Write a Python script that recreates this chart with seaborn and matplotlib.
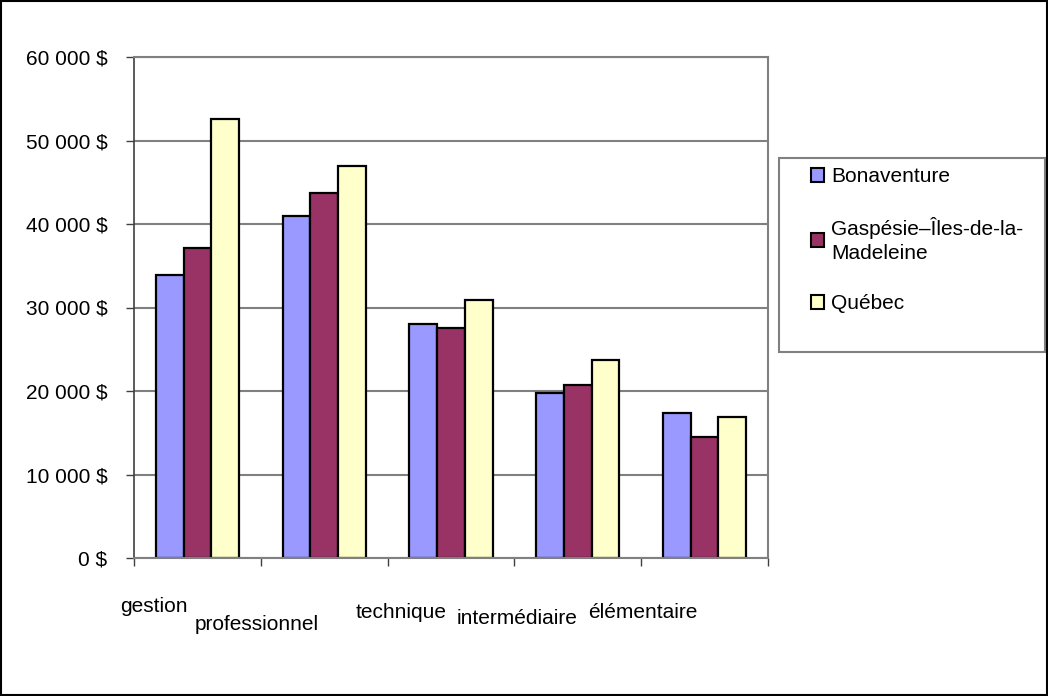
import matplotlib
matplotlib.use("Agg")
import matplotlib.pyplot as plt
import pandas as pd
import seaborn as sns
from matplotlib.patches import Rectangle

# Revenu d'emploi moyen par niveau de compétence
categories = ["gestion", "professionnel", "technique", "intermédiaire", "élémentaire"]
regions = ["Bonaventure", "Gaspésie–Îles-de-la-\nMadeleine", "Québec"]
bonaventure = [33860, 40920, 28060, 19730, 17350]
gaspesie = [37140, 43770, 27580, 20680, 14530]
quebec = [52620, 46940, 30950, 23770, 16870]
y_ticks = [0, 10000, 20000, 30000, 40000, 50000, 60000]

colors = ["#9999FF", "#993366", "#FFFFCC"]

rows = []
for region, values in zip(regions, [bonaventure, gaspesie, quebec]):
    for cat, v in zip(categories, values):
        rows.append({"Catégorie": cat, "Région": region, "Revenu": v})
df = pd.DataFrame(rows)

sns.set_style("white")
plt.rcParams["font.family"] = ["Liberation Sans", "DejaVu Sans"]
plt.rcParams["text.color"] = "black"
plt.rcParams["xtick.labelcolor"] = "black"
plt.rcParams["ytick.labelcolor"] = "black"

W, H = 1048, 696
fig = plt.figure(figsize=(W / 100, H / 100), dpi=100)
ax = fig.add_axes([134 / W, 1 - 558 / H, (768 - 134) / W, (558 - 57) / H])

sns.barplot(data=df, x="Catégorie", y="Revenu", hue="Région", palette=colors,
            saturation=1, width=0.655, gap=0, edgecolor="black", linewidth=1.6,
            errorbar=None, ax=ax, legend=True)

ax.set_xlim(-0.5, 4.5)
ax.set_ylim(0, 60000)
ax.set_yticks(y_ticks)
ax.set_yticklabels([f"{v:,}".replace(",", " ") + " $" for v in y_ticks], fontsize=15)
ax.set_xlabel("")
ax.set_ylabel("")
ax.yaxis.grid(True, color="#808080", linewidth=1.5)
ax.set_axisbelow(True)
ax.tick_params(axis="y", which="major", length=6, width=1, color="#404040", left=True, pad=13)

# ticks between categories, labels placed by hand (staggered like the original)
ax.set_xticks([-0.5, 0.5, 1.5, 2.5, 3.5, 4.5], minor=True)
ax.tick_params(axis="x", which="minor", length=6, width=1, color="#404040", bottom=True)
ax.tick_params(axis="x", which="major", length=0)
ax.set_xticks(range(len(categories)))
ax.set_xticklabels([])

for s in ["top", "right", "bottom"]:
    ax.spines[s].set_color("#808080")
    ax.spines[s].set_linewidth(1.5)
ax.spines["left"].set_color("#404040")
ax.spines["left"].set_linewidth(1.2)

label_pos = [(154, 606), (257, 625), (401, 612), (517, 619), (643, 612)]
for cat, (px, py) in zip(categories, label_pos):
    fig.text(px / W, 1 - py / H, cat, ha="center", va="center", fontsize=15)

# legend (frame drawn separately so its size matches the original box)
handles, labels = ax.get_legend_handles_labels()
ax.legend_.remove()
leg = fig.legend(handles, labels, loc="upper left",
                 bbox_to_anchor=(801 / W, 1 - 157.5 / H),
                 fontsize=15, frameon=False, borderpad=0.46, labelspacing=1.48,
                 handlelength=0.65, handleheight=0.65, handletextpad=0.35,
                 borderaxespad=0)
for t in leg.get_texts():
    t.set_linespacing(1.35)
for h in leg.legend_handles:
    h.set_edgecolor("black")
    h.set_linewidth(1.5)

fig.patches.append(Rectangle((779 / W, 1 - 352 / H), (1045 - 779) / W, (352 - 157.5) / H,
                             transform=fig.transFigure, fill=False,
                             edgecolor="#808080", linewidth=1.5))
fig.patches.append(Rectangle((0.001, 0.001), 0.998, 0.998, transform=fig.transFigure,
                             fill=False, edgecolor="black", linewidth=1.5))

fig.savefig("out.png", dpi=100)
